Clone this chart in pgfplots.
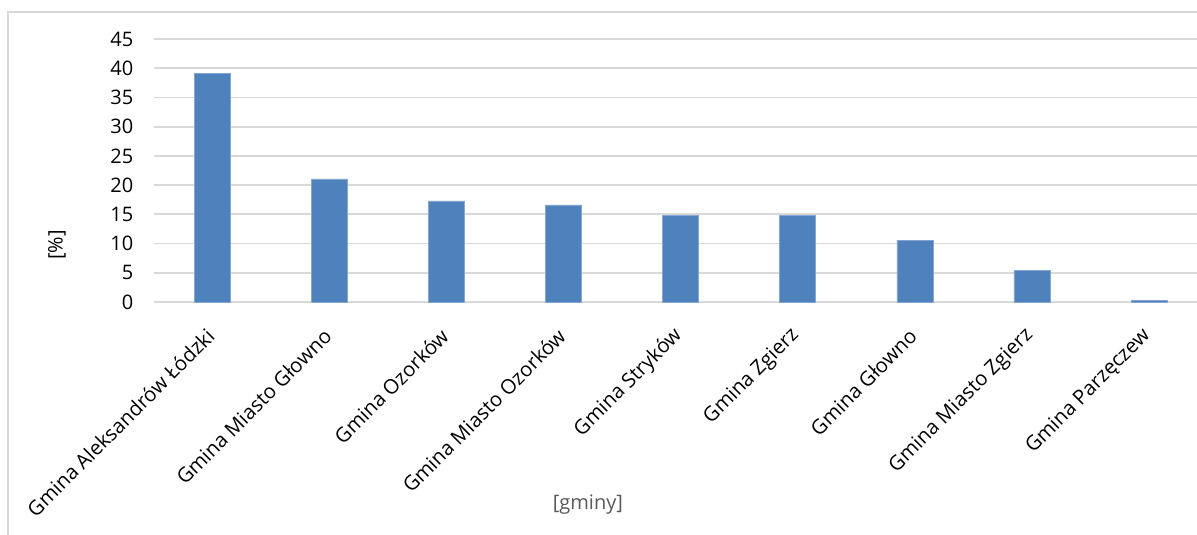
\documentclass[border=0pt]{standalone}
\usepackage{pgfplots}
\pgfplotsset{compat=1.18}
\usepackage{fontspec}
\setmainfont{Open Sans}
\definecolor{barblue}{HTML}{4F81BD}
\definecolor{gridgray}{HTML}{D9D9D9}
\definecolor{titlegray}{HTML}{595959}
\begin{document}
\begin{tikzpicture}
\path[use as bounding box] (0,0) rectangle (897.75pt,401.25pt);
\draw[gridgray, line width=1pt] (6pt,0) -- (6pt,392.25pt) -- (897.75pt,392.25pt);
\begin{axis}[
  at={(115.5pt,174.75pt)}, anchor=south west,
  scale only axis, width=782.25pt, height=197.25pt,
  xmin=-0.5, xmax=8.41, ymin=0, ymax=45,
  ytick={0,5,...,45},
  xtick={0,...,8},
  xticklabels={Gmina Aleksandrów Łódzki, Gmina Miasto Głowno, Gmina Ozorków, Gmina Miasto Ozorków, Gmina Stryków, Gmina Zgierz, Gmina Głowno, Gmina Miasto Zgierz, Gmina Parzęczew},
  axis line style={draw=none},
  major tick length=0pt,
  ymajorgrids, grid style={gridgray, line width=1.4pt},
  ybar, bar width=27pt,
  /pgf/number format/assume math mode=true,
  xticklabel style={xshift=1pt, yshift=-20.5pt, rotate=45, anchor=east, font=\fontsize{15.2}{18}\selectfont},
  yticklabel style={font=\fontsize{15}{18}\selectfont, xshift=-12pt},
  ylabel={[\%]}, ylabel style={at={(axis description cs:-0.093,0.217)}, anchor=center, rotate=0, font=\fontsize{15}{18}\selectfont},
  xlabel={[gminy]}, xlabel style={at={(axis description cs:0.416,-0.772)}, anchor=center, text=titlegray, font=\fontsize{15}{18}\selectfont},
  clip=false,
]
\addplot[fill=barblue, draw=barblue!70!white, line width=0.5pt] coordinates {
  (0,39.1) (1,21.05) (2,17.3) (3,16.6) (4,14.75) (5,14.75) (6,10.6) (7,5.35) (8,0.2)
};
\end{axis}
\end{tikzpicture}
\end{document}
